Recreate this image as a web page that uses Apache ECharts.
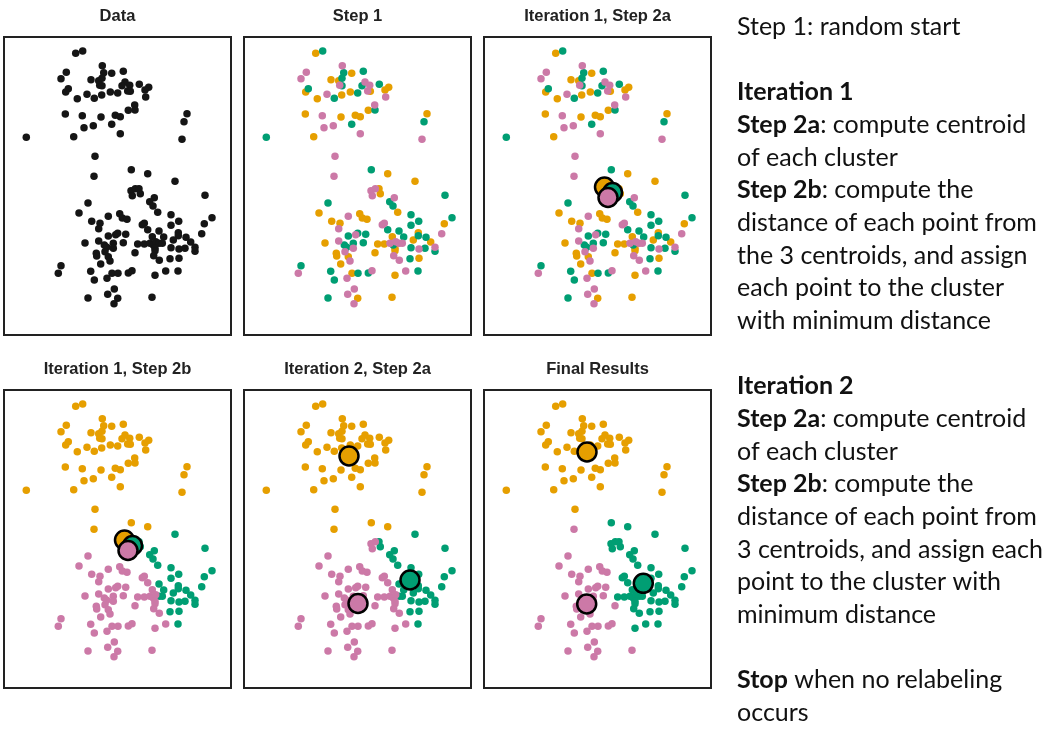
<!DOCTYPE html>
<html><head><meta charset="utf-8">
<script src="https://cdn.jsdelivr.net/npm/echarts/dist/echarts.min.js"></script>
<style>html,body{margin:0;padding:0;background:#fff}#c{width:1055px;height:732px}</style>
</head><body><div id="c"></div><script>
// point positions (panel units: x 0..227 left->right, y 0..298 top->bottom)
const px = [71.7,78.7,98.3,62.3,57.0,99.7,107.7,119.3,87.0,94.7,98.0,95.7,98.0,121.0,118.0,125.7,123.7,126.3,135.3,144.7,141.0,141.7,64.3,61.7,73.3,83.0,90.3,97.7,106.3,113.7,130.7,131.0,124.3,61.3,78.3,97.0,111.3,116.3,80.0,89.3,107.7,116.3,69.7,22.3,183.0,180.0,178.0,
  91.0,90.0,127.3,143.7,171.0,127.0,131.3,135.0,128.3,136.3,150.3,145.7,149.0,201.0,84.0,75.0,115.7,118.3,123.0,153.7,167.0,104.3,87.7,96.0,94.7,140.3,138.3,143.7,155.0,167.0,174.7,200.3,208.0,197.7,
  104.3,111.7,113.7,121.7,148.3,159.7,174.3,174.3,182.0,
  81.0,94.7,100.3,102.7,109.3,109.3,119.3,133.7,140.3,146.0,149.3,151.7,155.0,158.3,151.0,151.0,169.3,167.0,175.0,181.0,186.7,191.0,191.0,
  92.3,92.7,101.0,104.3,106.0,96.7,131.0,149.7,155.3,166.0,175.0,
  57.0,54.3,86.7,90.3,108.0,114.0,124.3,128.0,103.0,151.0,161.7,174.0,110.3,103.7,113.7,110.0,84.0,148.0];
const py = [16.3,14.0,28.7,35.3,41.7,35.7,36.3,34.3,42.7,43.7,41.3,48.3,48.7,45.0,48.7,48.3,54.0,54.3,47.3,50.3,53.0,60.0,51.7,55.0,61.7,57.3,61.3,58.0,55.0,56.0,68.0,73.0,73.3,77.0,78.7,80.0,78.3,79.7,90.7,88.7,87.3,96.7,99.7,100.3,76.7,84.7,102.3,
  119.3,139.3,132.7,136.7,144.3,153.7,151.7,151.7,158.7,156.7,160.7,164.7,169.0,158.3,166.0,176.0,176.7,181.0,182.3,175.3,177.7,179.3,184.3,186.3,191.7,186.3,187.7,192.7,194.0,188.3,184.3,186.7,180.7,196.7,
  199.0,197.7,196.3,197.3,199.7,200.0,195.7,198.7,200.3,
  206.0,204.0,208.0,210.3,206.3,211.3,205.7,207.0,207.0,206.3,208.0,204.7,206.3,206.3,211.3,213.7,203.0,210.7,212.0,211.3,205.0,210.3,214.3,
  216.3,219.0,214.7,219.7,224.0,227.0,215.7,218.7,223.3,221.7,221.3,
  228.7,236.3,234.3,243.0,236.3,236.3,236.0,233.7,241.3,238.3,234.0,234.0,252.0,257.3,261.3,266.7,261.0,260.3];
// cluster labels: O = orange, G = green, P = pink
const labelsStep1 = ("OGPPPGOGOO"+"GPGPGPPOGO"+"OPGOOPGOOG"+"PGOOPOOOPP"+"GPOGOGP"+
  "PPGOOPPOPO"+"PGGGGOOOOO"+"GPOOPPPGGG"+"GOGP"+
  "GPGGOGOGGO"+"PGGGPGOOPG"+"PPPOOOGPGO"+"PGOOPOPOOP"+"PGOGPGGOGG"+"PPOPGPPOPG"+"O").split('');
const labelsStep2b = ("O".repeat(47)+
  "OOOOGPPGPG"+"GGGGPPPPPG"+"GPPPPPPPGG"+"GGGG"+
  "PPPPPGGGGP"+"PPPPPPPPPP"+"PGGPPGGGGG"+"GGPPPPPPPP"+"PGGPPPPPPP"+"PPPPGPPPPP"+"P").split('');
const labelsFinal = ("O".repeat(47)+
  "OPGGGGGGGG"+"GGGGPPPPPG"+"GPPPPGGGGG"+"GGGG"+
  "PPPPGGGGGP"+"PPPPPPGGGG"+"GGGGGGGGGG"+"GGPPPPPPPG"+"GGGPPPPPPP"+"PPGGGPPPPP"+"P").split('');
// centroids [orange, green, pink]
const centroidsIter1 = [[120.5,150],[128.5,155.5],[124,160.5]];
const centroidsIter2 = [[105,66],[166,190],[114,213.5]];
const centroidsFinal = [[103,62],[159.3,193.3],[102.7,214]];
const panelTitles = ['Data','Step 1','Iteration 1, Step 2a','Iteration 1, Step 2b','Iteration 2, Step 2a','Final Results'];
const textLines = [
  'Step 1: random start','',
  '{b|Itera}{b|tion 1}',
  '{b|Step 2a}: compute centroid',
  'of each cluster',
  '{b|Step 2b}: compute the',
  'distance of each point from',
  'the 3 centroids, and assign',
  'each point to the cluster',
  'with minimum distance','',
  '{b|Itera}{b|tion 2}',
  '{b|Step 2a}: compute centroid',
  'of each cluster',
  '{b|Step 2b}: compute the',
  'distance of each point from',
  '3 centroids, and assign each',
  'point to the cluster with',
  'minimum distance','',
  '{b|Stop} when no relabeling',
  'occurs'];

const COLORS = {O:'#E69F00', G:'#009E73', P:'#CC79A7'};
const KEYS = ['O','G','P'];
const W = 227, H = 298;
const panels = [
  {x:4, y:37, labels:null, cent:null},
  {x:244, y:37, labels:labelsStep1, cent:null},
  {x:484, y:37, labels:labelsStep1, cent:centroidsIter1},
  {x:4, y:390, labels:labelsStep2b, cent:centroidsIter1},
  {x:244, y:390, labels:labelsStep2b, cent:centroidsIter2},
  {x:484, y:390, labels:labelsFinal, cent:centroidsFinal}
];
const grid=[], xAxis=[], yAxis=[], series=[], graphic=[];
panels.forEach((p,i)=>{
  grid.push({left:p.x, top:p.y, width:W, height:H, show:true, borderColor:'#222', borderWidth:2, backgroundColor:'#fff'});
  xAxis.push({gridIndex:i, type:'value', min:0, max:W, show:false});
  yAxis.push({gridIndex:i, type:'value', min:0, max:H, inverse:true, show:false});
  if (!p.labels) {
    series.push({type:'scatter', xAxisIndex:i, yAxisIndex:i, symbolSize:7.5, itemStyle:{color:'#151515', opacity:1},
      data: px.map((x,k)=>[x, py[k]])});
  } else {
    KEYS.forEach(key=>{
      const d=[]; px.forEach((x,k)=>{ if(p.labels[k]===key) d.push([x,py[k]]); });
      series.push({type:'scatter', xAxisIndex:i, yAxisIndex:i, symbolSize:7.5, itemStyle:{color:COLORS[key], opacity:1}, data:d});
    });
  }
  if (p.cent) {
    p.cent.forEach((c,j)=>{
      series.push({type:'scatter', xAxisIndex:i, yAxisIndex:i, symbolSize:19, z:5,
        itemStyle:{color:COLORS[KEYS[j]], borderColor:'#000', borderWidth:2.5, opacity:1}, data:[c]});
    });
  }
  graphic.push({type:'text', x:p.x+W/2, y:p.y-21, style:{text:panelTitles[i], textAlign:'center', textVerticalAlign:'middle',
    fontSize:16.5, fontWeight:'bold', fontFamily:'Liberation Sans', fill:'#222'}});
});
textLines.forEach((t,i)=>{
  if(!t) return;
  graphic.push({type:'text', x:737, y:27+i*32.67, style:{text:t, textVerticalAlign:'middle', textAlign:'left',
    fontSize:25, fontFamily:'Lato', fill:'#111',
    rich:{b:{fontSize:25, fontFamily:'Lato', fontWeight:'bold', fill:'#111'}}}});
});
const chart = echarts.init(document.getElementById('c'));
chart.setOption({animation:false, backgroundColor:'#fff', grid, xAxis, yAxis, series, graphic});
</script></body></html>
